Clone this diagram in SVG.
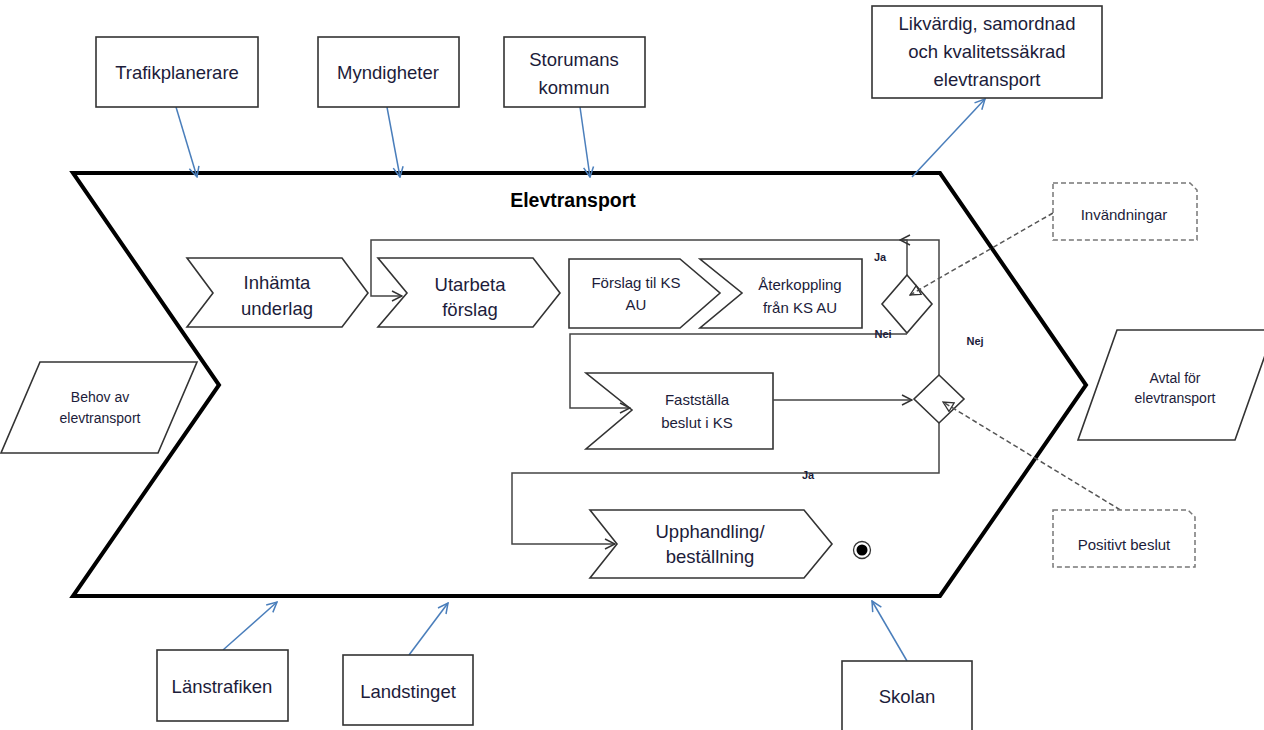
<svg xmlns="http://www.w3.org/2000/svg" width="1264" height="730" viewBox="0 0 1264 730">
<style>
.box{fill:#fff;stroke:#333;stroke-width:1.6}
.shape{fill:#fff;stroke:#333;stroke-width:1.6}
.dash{fill:#fff;stroke:#777;stroke-width:1.5;stroke-dasharray:5 3}
.t{font-family:"Liberation Sans",Arial,sans-serif;fill:#1c1c3a;text-anchor:middle}
.big{font-size:18.5px}
.mid{font-size:15px}
.sm{font-size:14px}
.lab{font-size:11px;font-weight:bold}
.blue{stroke:#4a7ebb;stroke-width:1.5;fill:none;marker-end:url(#ab)}
.flow{stroke:#444;stroke-width:1.5;fill:none;marker-end:url(#ak)}
.dflow{stroke:#555;stroke-width:1.5;fill:none;stroke-dasharray:5 3;marker-end:url(#ad)}
</style>
<defs>
<marker id="ab" viewBox="0 0 12 12" refX="11" refY="6" markerWidth="12" markerHeight="12" markerUnits="userSpaceOnUse" orient="auto"><path d="M1,1 L11,6 L1,11" fill="none" stroke="#4a7ebb" stroke-width="1.5"/></marker>
<marker id="ak" viewBox="0 0 12 12" refX="11" refY="6" markerWidth="12" markerHeight="12" markerUnits="userSpaceOnUse" orient="auto"><path d="M1,1 L11,6 L1,11" fill="none" stroke="#333" stroke-width="1.5"/></marker>
<marker id="ad" viewBox="0 0 12 12" refX="11" refY="6" markerWidth="12" markerHeight="12" markerUnits="userSpaceOnUse" orient="auto"><path d="M1,1 L11,6 L1,11 Z" fill="none" stroke="#333" stroke-width="1.3"/></marker>
</defs>
<rect width="1264" height="730" fill="#fff"/>

<g id="elevtransport">
<path d="M73,173 L940,173 L1086,385 L940,596 L73,596 L219,385 Z" fill="#fff" stroke="#000" stroke-width="4" stroke-linejoin="miter"/>
<text class="t" x="573" y="207" font-size="19.5" font-weight="bold" style="fill:#000">Elevtransport</text>
</g>

<g id="inhamta">
<path class="shape" d="M187,258 L342,258 L368,293 L342,327 L187,327 L213,293 Z"/>
<text class="t big" x="277" y="289">Inhämta</text>
<text class="t big" x="277" y="315">underlag</text>
</g>
<g id="utarbeta">
<path class="shape" d="M378,258 L533,258 L560,293 L533,327 L378,327 L407,293 Z"/>
<text class="t big" x="470" y="291">Utarbeta</text>
<text class="t big" x="470" y="316">förslag</text>
</g>
<g id="forslag">
<path class="shape" d="M569,259 L680,259 L720,293 L680,328 L569,328 Z"/>
<text class="t mid" x="636" y="288">Förslag til KS</text>
<text class="t mid" x="636" y="310">AU</text>
</g>
<g id="aterkoppling">
<path class="shape" d="M700,259 L862,259 L862,328 L700,328 L742,293 Z"/>
<text class="t mid" x="800" y="290">Återkoppling</text>
<text class="t mid" x="800" y="313">från KS AU</text>
</g>
<g id="beslut1">
<path class="shape" d="M907,275 L932,304 L907,333 L882,304 Z"/>
</g>
<g id="faststalla">
<path class="shape" d="M586,373 L773,373 L773,449 L586,449 L632,410 Z"/>
<text class="t mid" x="697" y="405">Fastställa</text>
<text class="t mid" x="697" y="428">beslut i KS</text>
</g>
<g id="beslut2">
<path class="shape" d="M939,375 L964,399 L939,423 L914,399 Z"/>
</g>
<g id="upphandling">
<path class="shape" d="M590,510 L804,510 L832,544 L804,578 L590,578 L617,544 Z"/>
<text class="t big" x="710" y="538">Upphandling/</text>
<text class="t big" x="710" y="563">beställning</text>
</g>
<g id="slut">
<circle cx="862" cy="550" r="8.5" fill="#fff" stroke="#333" stroke-width="1.3"/>
<circle cx="862" cy="550" r="5.5" fill="#000"/>
</g>

<g id="connectors">
<path class="flow" d="M939,375 L939,240 L371,240 L371,296 L402,296"/>
<path class="flow" d="M907,275 L907,240 L900,240"/>
<path class="flow" d="M907,334 L570,334 L570,408 L630,408"/>
<path class="flow" d="M773,400 L912,400"/>
<path class="flow" d="M939,423 L939,473 L512,473 L512,544 L615,544"/>
<path class="dflow" d="M1053,213 L910,295"/>
<path class="dflow" d="M1127,514 L943,402"/>
<path class="blue" d="M176,107 L197,177"/>
<path class="blue" d="M387,107 L400,177"/>
<path class="blue" d="M580,107 L590,177"/>
<path class="blue" d="M912,177 L985,99"/>
<path class="blue" d="M223,650 L277,602"/>
<path class="blue" d="M409,655 L448,603"/>
<path class="blue" d="M907,661 L872,601"/>
<text class="t lab" x="880" y="261">Ja</text>
<text class="t lab" x="883" y="338">Nei</text>
<text class="t lab" x="975" y="345">Nej</text>
<text class="t lab" x="808" y="479">Ja</text>
</g>

<g id="trafikplanerare">
<rect class="box" x="96" y="37" width="162" height="70"/>
<text class="t big" x="177" y="79">Trafikplanerare</text>
</g>
<g id="myndigheter">
<rect class="box" x="318" y="37" width="141" height="70"/>
<text class="t big" x="388" y="79">Myndigheter</text>
</g>
<g id="storumans">
<rect class="box" x="504" y="37" width="141" height="70"/>
<text class="t big" x="574" y="66">Storumans</text>
<text class="t big" x="574" y="94">kommun</text>
</g>
<g id="likvardig">
<rect class="box" x="872" y="6" width="230" height="92"/>
<text class="t big" x="987" y="30">Likvärdig, samordnad</text>
<text class="t big" x="987" y="58">och kvalitetssäkrad</text>
<text class="t big" x="987" y="86">elevtransport</text>
</g>
<g id="invandningar">
<path class="dash" d="M1053,183 L1190,183 L1197,190 L1197,240 L1053,240 Z"/>
<text class="t mid" x="1124" y="220">Invändningar</text>
</g>
<g id="positivt">
<path class="dash" d="M1053,510 L1188,510 L1195,517 L1195,567 L1053,567 Z"/>
<text class="t mid" x="1124" y="550">Positivt beslut</text>
</g>
<g id="behov">
<path class="shape" d="M40,362 L197,362 L158,453 L1,453 Z"/>
<text class="t sm" x="100" y="402">Behov av</text>
<text class="t sm" x="100" y="423">elevtransport</text>
</g>
<g id="avtal">
<path class="shape" d="M1117,330 L1274,330 L1235,440 L1078,440 Z"/>
<text class="t sm" x="1175" y="383">Avtal för</text>
<text class="t sm" x="1175" y="403">elevtransport</text>
</g>
<g id="lanstrafiken">
<rect class="box" x="157" y="650" width="131" height="71"/>
<text class="t big" x="222" y="693">Länstrafiken</text>
</g>
<g id="landstinget">
<rect class="box" x="343" y="655" width="130" height="70"/>
<text class="t big" x="408" y="698">Landstinget</text>
</g>
<g id="skolan">
<rect class="box" x="842" y="661" width="130" height="80"/>
<text class="t big" x="907" y="703">Skolan</text>
</g>
</svg>
